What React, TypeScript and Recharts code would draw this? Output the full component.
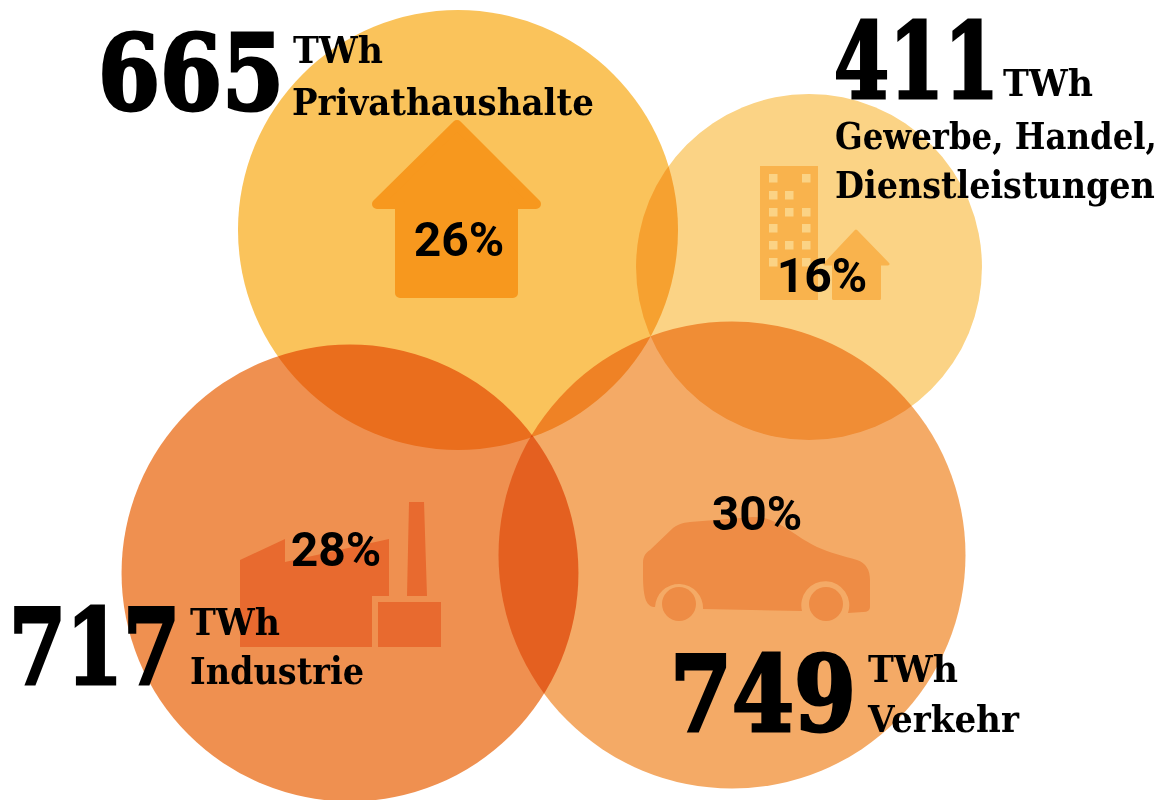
import React from 'react';
import { ScatterChart, Scatter, XAxis, YAxis, ZAxis } from 'recharts';

const sectors = ['Privathaushalte', 'Gewerbe', 'Industrie', 'Verkehr'];
const twh = [665, 411, 717, 749];
const shares = [26, 16, 28, 30];
const posX = [458, 809, 350, 732];
const posY = [230, 267, 573, 555];
const titleLines = [['Privathaushalte'], ['Gewerbe, Handel,', 'Dienstleistungen'], ['Industrie'], ['Verkehr']];

const WIDTH = 1161;
const HEIGHT = 800;
const SLAB = '"DejaVu Serif Condensed", "DejaVu Serif", serif';

const data = sectors.map((name, i) => ({
  name,
  twh: twh[i],
  share: shares[i],
  lines: titleLines[i],
  x: posX[i],
  y: posY[i],
}));

const fills: Record<string, string> = {
  Privathaushalte: '#FAC35B',
  Gewerbe: '#FBD385',
  Industrie: '#EF9050',
  Verkehr: '#F4AA66',
};

// label offsets from the circle centre
const labelPos: Record<string, any> = {
  Privathaushalte: {
    num: [-360, -120, 186], unit: [-165, -167], lines: [[-166, -115, 302]], pct: [1, 26],
  },
  Gewerbe: {
    num: [25, -169, 165], unit: [194, -171],
    lines: [[26, -118, 322], [26, -69, 320]], pct: [13, 25],
  },
  Industrie: {
    num: [-341, 111, 171], unit: [-160, 62], lines: [[-160, 111, 174]], pct: [-14, -7],
  },
  Verkehr: {
    num: [-62, 176, 186], unit: [136, 127], lines: [[136, 177, 151]], pct: [25, -25],
  },
};

const measureCtx = document.createElement('canvas').getContext('2d') as CanvasRenderingContext2D;

// squeezes the slab text to the width it has in the reference
const FitText = ({ x, y, width, fontSize, children, ...rest }: any) => {
  measureCtx.font = `bold ${fontSize}px ${SLAB}`;
  const natural = measureCtx.measureText(String(children)).width;
  return (
    <text transform={`translate(${x},${y}) scale(${width / natural},1)`} fontSize={fontSize} {...rest}>
      {children}
    </text>
  );
};

const CircleShape = ({ cx, cy, size, payload }: any) => (
  <circle
    cx={cx}
    cy={cy}
    r={Math.sqrt(size / Math.PI)}
    fill={fills[payload.name]}
    style={{ mixBlendMode: 'multiply' }}
  />
);

const House = () => (
  <path
    d="M-1,-105 L78,-26 L55,-26 L55,63 L-58,63 L-58,-26 L-81,-26 Z"
    fill="#F7981E"
    stroke="#F7981E"
    strokeWidth={10}
    strokeLinejoin="round"
  />
);

const windowRows = [
  [-93, [-40, -7]],
  [-76, [-40, -24]],
  [-59, [-40, -24, -7]],
  [-43, [-40, -7]],
  [-26, [-40, -24, -7]],
  [-9, [-40, -7]],
] as [number, number[]][];

const Offices = () => (
  <g fill="#F9B34D">
    <rect x={-49} y={-101} width={58} height={134} />
    {windowRows.map(([wy, cols]) =>
      cols.map((wx) => <rect key={`${wx}-${wy}`} x={wx} y={wy} width={8.5} height={8.5} fill="#FBD385" />)
    )}
    <path
      d="M47,-36 L79,-3 L70.5,-3 L70.5,31.5 L24.5,31.5 L24.5,-3 L16,-3 Z"
      stroke="#F9B34D"
      strokeWidth={3}
      strokeLinejoin="round"
    />
  </g>
);

const Factory = () => (
  <g fill="#E86A2F">
    <path d="M-110,-13 L-65,-34 L-65,-11 L39,-34 L39,23 L22,23 L22,74 L-110,74 Z" />
    <rect x={28} y={29} width={63} height={45} />
    <path d="M59,-71 L74,-71 L77,23 L57,23 Z" />
  </g>
);

const Car = () => (
  <g fill="#EE8C45">
    <path d="M-77,52 C-85,52 -89,45 -89,20 L-89,8 C-89,0 -85,-3 -82,-5 L-59,-27 C-52,-32 -46,-32.5 -42,-33 L21,-38 C30,-38 38,-36 45,-32 C60,-24 72,-14 85,-8 C98,-2 112,1 125,5 C134,8 138,15 138,25 L138,52 Q138,57 131,57 L116,58 A24,24 0 1 0 70,56 L-29,54 A24,24 0 1 0 -77,52 Z" />
    <circle cx={94} cy={49} r={17} />
    <circle cx={-53} cy={49} r={17} />
  </g>
);

const icons: Record<string, () => React.ReactElement> = {
  Privathaushalte: House,
  Gewerbe: Offices,
  Industrie: Factory,
  Verkehr: Car,
};

const IconShape = ({ cx, cy, payload }: any) => {
  const Icon = icons[payload.name];
  return (
    <g transform={`translate(${cx},${cy})`}>
      <Icon />
    </g>
  );
};

const LabelShape = ({ cx, cy, payload }: any) => {
  const p = labelPos[payload.name];
  return (
    <g transform={`translate(${cx},${cy})`} fill="#000" fontFamily={SLAB} fontWeight={700}>
      <FitText x={p.num[0]} y={p.num[1]} width={p.num[2]} fontSize={104} stroke="#000" strokeWidth={3}>
        {String(payload.twh)}
      </FitText>
      <FitText x={p.unit[0]} y={p.unit[1]} width={90} fontSize={37}>
        TWh
      </FitText>
      {payload.lines.map((line: string, i: number) => (
        <FitText key={line} x={p.lines[i][0]} y={p.lines[i][1]} width={p.lines[i][2]} fontSize={37}>
          {line}
        </FitText>
      ))}
      <text x={p.pct[0]} y={p.pct[1]} fontSize={48} fontFamily="Roboto" textAnchor="middle">
        {payload.share}%
      </text>
    </g>
  );
};

export default function App() {
  return (
    <div style={{ position: 'absolute', left: 0, top: 0, width: WIDTH, height: HEIGHT, background: '#fff' }}>
      <ScatterChart width={WIDTH} height={HEIGHT} margin={{ top: 0, right: 0, bottom: 0, left: 0 }}>
        <XAxis type="number" dataKey="x" domain={[0, WIDTH]} hide />
        <YAxis type="number" dataKey="y" domain={[0, HEIGHT]} reversed hide />
        <ZAxis type="number" dataKey="twh" domain={[0, 749]} range={[0, 171284]} />
        <Scatter data={data} shape={CircleShape} isAnimationActive={false} />
        <Scatter data={data} shape={IconShape} isAnimationActive={false} />
        <Scatter data={data} shape={LabelShape} isAnimationActive={false} />
      </ScatterChart>
    </div>
  );
}
